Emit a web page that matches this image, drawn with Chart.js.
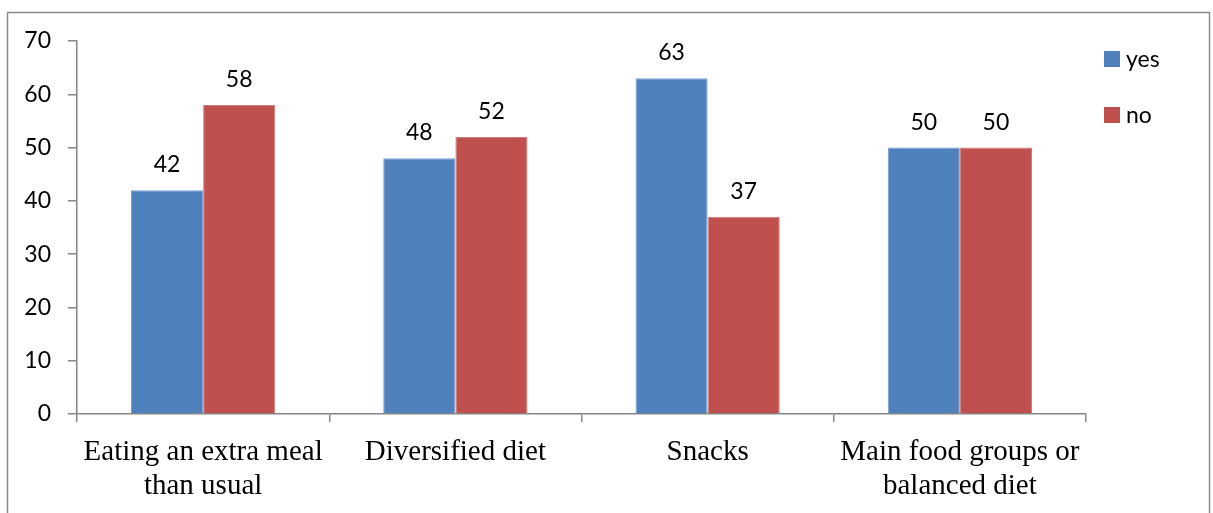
<!DOCTYPE html>
<html>
<head>
<meta charset="utf-8">
<script src="https://cdn.jsdelivr.net/npm/chart.js@4/dist/chart.umd.min.js"></script>
<style>
  html, body { margin: 0; padding: 0; background: #fff; overflow: hidden; }
  #wrap { position: relative; width: 1213px; height: 513px; }
</style>
</head>
<body>
<div id="wrap"><canvas id="c" width="1213" height="513"></canvas></div>
<script>
// Category labels (multi-line where the text wraps)
const categories = [
  ['Eating an extra meal', 'than usual'],
  ['Diversified diet'],
  ['Snacks'],
  ['Main food groups or', 'balanced diet']
];
const seriesNames = ['yes', 'no'];
const yesValues = [42, 48, 63, 50];
const noValues = [58, 52, 37, 50];
const yTickStep = 10;
const yMax = 70;

const BLUE = '#4F81BD';
const RED = '#C0504D';
const AXIS = '#868686';
const SANS = '23px Lato, "Open Sans", sans-serif';

// Outer frame around the whole figure
const frame = {
  id: 'frame',
  beforeDraw(chart) {
    const ctx = chart.ctx;
    ctx.save();
    ctx.strokeStyle = '#8a8a8a';
    ctx.lineWidth = 1.5;
    ctx.strokeRect(7.5, 12.5, 1202, 600);
    ctx.restore();
  }
};

// Value printed above every bar
const valueLabels = {
  id: 'valueLabels',
  afterDatasetsDraw(chart) {
    const ctx = chart.ctx;
    ctx.save();
    ctx.font = SANS;
    ctx.fillStyle = '#000';
    ctx.textAlign = 'center';
    ctx.textBaseline = 'alphabetic';
    chart.data.datasets.forEach((ds, i) => {
      chart.getDatasetMeta(i).data.forEach((bar, j) => {
        ctx.fillText(String(ds.data[j]), bar.x, bar.y - 18);
      });
    });
    ctx.restore();
  }
};

// Series key on the right, one entry per row
const sideLegend = {
  id: 'sideLegend',
  afterDraw(chart) {
    const ctx = chart.ctx;
    const x = chart.chartArea.right + 18;
    ctx.save();
    ctx.font = SANS;
    ctx.textAlign = 'left';
    ctx.textBaseline = 'alphabetic';
    chart.data.datasets.forEach((ds, i) => {
      const y = 51 + i * 56;
      ctx.fillStyle = ds.backgroundColor;
      ctx.fillRect(x, y, 16, 16);
      ctx.fillStyle = '#000';
      ctx.fillText(ds.label, x + 22, y + 16);
    });
    ctx.restore();
  }
};

new Chart(document.getElementById('c'), {
  type: 'bar',
  data: {
    labels: categories,
    datasets: [
      { label: seriesNames[0], data: yesValues, backgroundColor: BLUE, borderColor: '#7d9fcf', borderWidth: 1 },
      { label: seriesNames[1], data: noValues, backgroundColor: RED, borderColor: '#d27c7a', borderWidth: 1 }
    ]
  },
  options: {
    responsive: false,
    devicePixelRatio: 1,
    animation: false,
    events: [],
    layout: { padding: { top: 41, right: 127, bottom: 0, left: 0 } },
    datasets: { bar: { categoryPercentage: 0.572, barPercentage: 1.0 } },
    plugins: {
      legend: { display: false },
      tooltip: { enabled: false },
      title: { display: false }
    },
    scales: {
      x: {
        grid: { offset: true, drawOnChartArea: false, drawTicks: true, tickLength: 8, color: AXIS, lineWidth: 1.5 },
        border: { display: true, color: AXIS, width: 1.5 },
        ticks: {
          color: '#000',
          padding: 13,
          maxRotation: 0,
          autoSkip: false,
          font: { family: '"Liberation Serif", "Times New Roman", serif', size: 29, lineHeight: 34 / 29 }
        },
        afterFit(scale) { scale.height = 99; }
      },
      y: {
        min: 0,
        max: yMax,
        grid: { drawOnChartArea: false, drawTicks: true, tickLength: 9, color: AXIS, lineWidth: 1.5 },
        border: { display: true, color: AXIS, width: 1.5 },
        ticks: {
          stepSize: yTickStep,
          color: '#000',
          padding: 17,
          font: { family: 'Lato, "Open Sans", sans-serif', size: 23 }
        },
        afterFit(scale) { scale.width = 77; }
      }
    }
  },
  plugins: [frame, valueLabels, sideLegend]
});
</script>
</body>
</html>
